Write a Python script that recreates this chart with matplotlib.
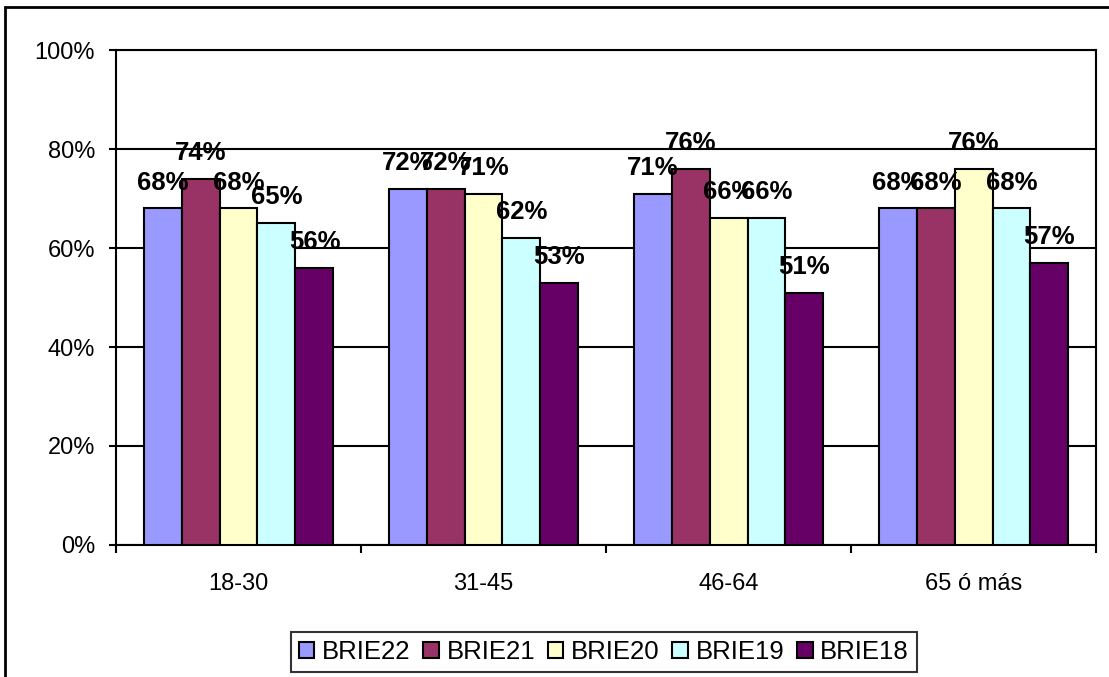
import numpy as np
import matplotlib.pyplot as plt
from matplotlib.patches import Rectangle
from matplotlib.ticker import PercentFormatter

plt.rcParams['font.family'] = ['Liberation Sans', 'DejaVu Sans']

# Datos por grupo de edad
grupos = ['18-30', '31-45', '46-64', '65 ó más']
series = ['BRIE22', 'BRIE21', 'BRIE20', 'BRIE19', 'BRIE18']
brie22 = [68, 72, 71, 68]
brie21 = [74, 72, 76, 68]
brie20 = [68, 71, 66, 76]
brie19 = [65, 62, 66, 68]
brie18 = [56, 53, 51, 57]
valores = [brie22, brie21, brie20, brie19, brie18]
colores = ['#9999FF', '#993366', '#FFFFCC', '#CCFFFF', '#660066']

fig = plt.figure(figsize=(11.09, 6.77), dpi=100)
ax = fig.add_axes([0.1046, 0.195, 0.8837, 0.7311])

# marco exterior del gráfico
fig.patches.append(Rectangle((5 / 1109, -0.05), 1.2, 1 - 7 / 677 + 0.05,
                             transform=fig.transFigure, fill=False,
                             edgecolor='black', linewidth=2, zorder=0))

x = np.arange(len(grupos))
ancho = 0.155
for i, (nombre, vals, col) in enumerate(zip(series, valores, colores)):
    pos = x + (i - 2) * ancho
    barras = ax.bar(pos, vals, ancho, color=col, edgecolor='black',
                    linewidth=1.5, label=nombre, zorder=3)
    for b, v in zip(barras, vals):
        ax.annotate(f'{v}%', xy=(b.get_x() + b.get_width() / 2, v),
                    xytext=(0, 10), textcoords='offset points',
                    ha='center', va='bottom', fontsize=18.5,
                    fontweight='bold', zorder=5)

ax.set_ylim(0, 100)
ax.set_xlim(-0.5, 3.5)
ax.set_yticks(range(0, 101, 20))
ax.yaxis.set_major_formatter(PercentFormatter(decimals=0))
ax.grid(axis='y', color='black', linewidth=1.5, zorder=0)
ax.set_axisbelow(True)

ax.set_xticks(x)
ax.set_xticklabels(grupos)
ax.set_xticks(np.arange(-0.5, 4, 1), minor=True)
ax.tick_params(axis='x', which='major', length=0, pad=20, labelsize=17)
ax.tick_params(axis='x', which='minor', length=6, width=1.5, direction='out')
ax.tick_params(axis='y', length=5, width=1.5, pad=10, labelsize=17)

for s in ax.spines.values():
    s.set_color('black')
    s.set_linewidth(1.5)

leg = fig.legend(loc='center', bbox_to_anchor=(0.5446, 0.0369), ncol=5,
                 fontsize=18.5, frameon=True, fancybox=False,
                 handlelength=0.6, handleheight=0.6, handletextpad=0.3,
                 columnspacing=0.5, borderpad=0.3)
leg.get_frame().set_edgecolor('black')
leg.get_frame().set_linewidth(1.5)

fig.savefig('out.png', dpi=100)
